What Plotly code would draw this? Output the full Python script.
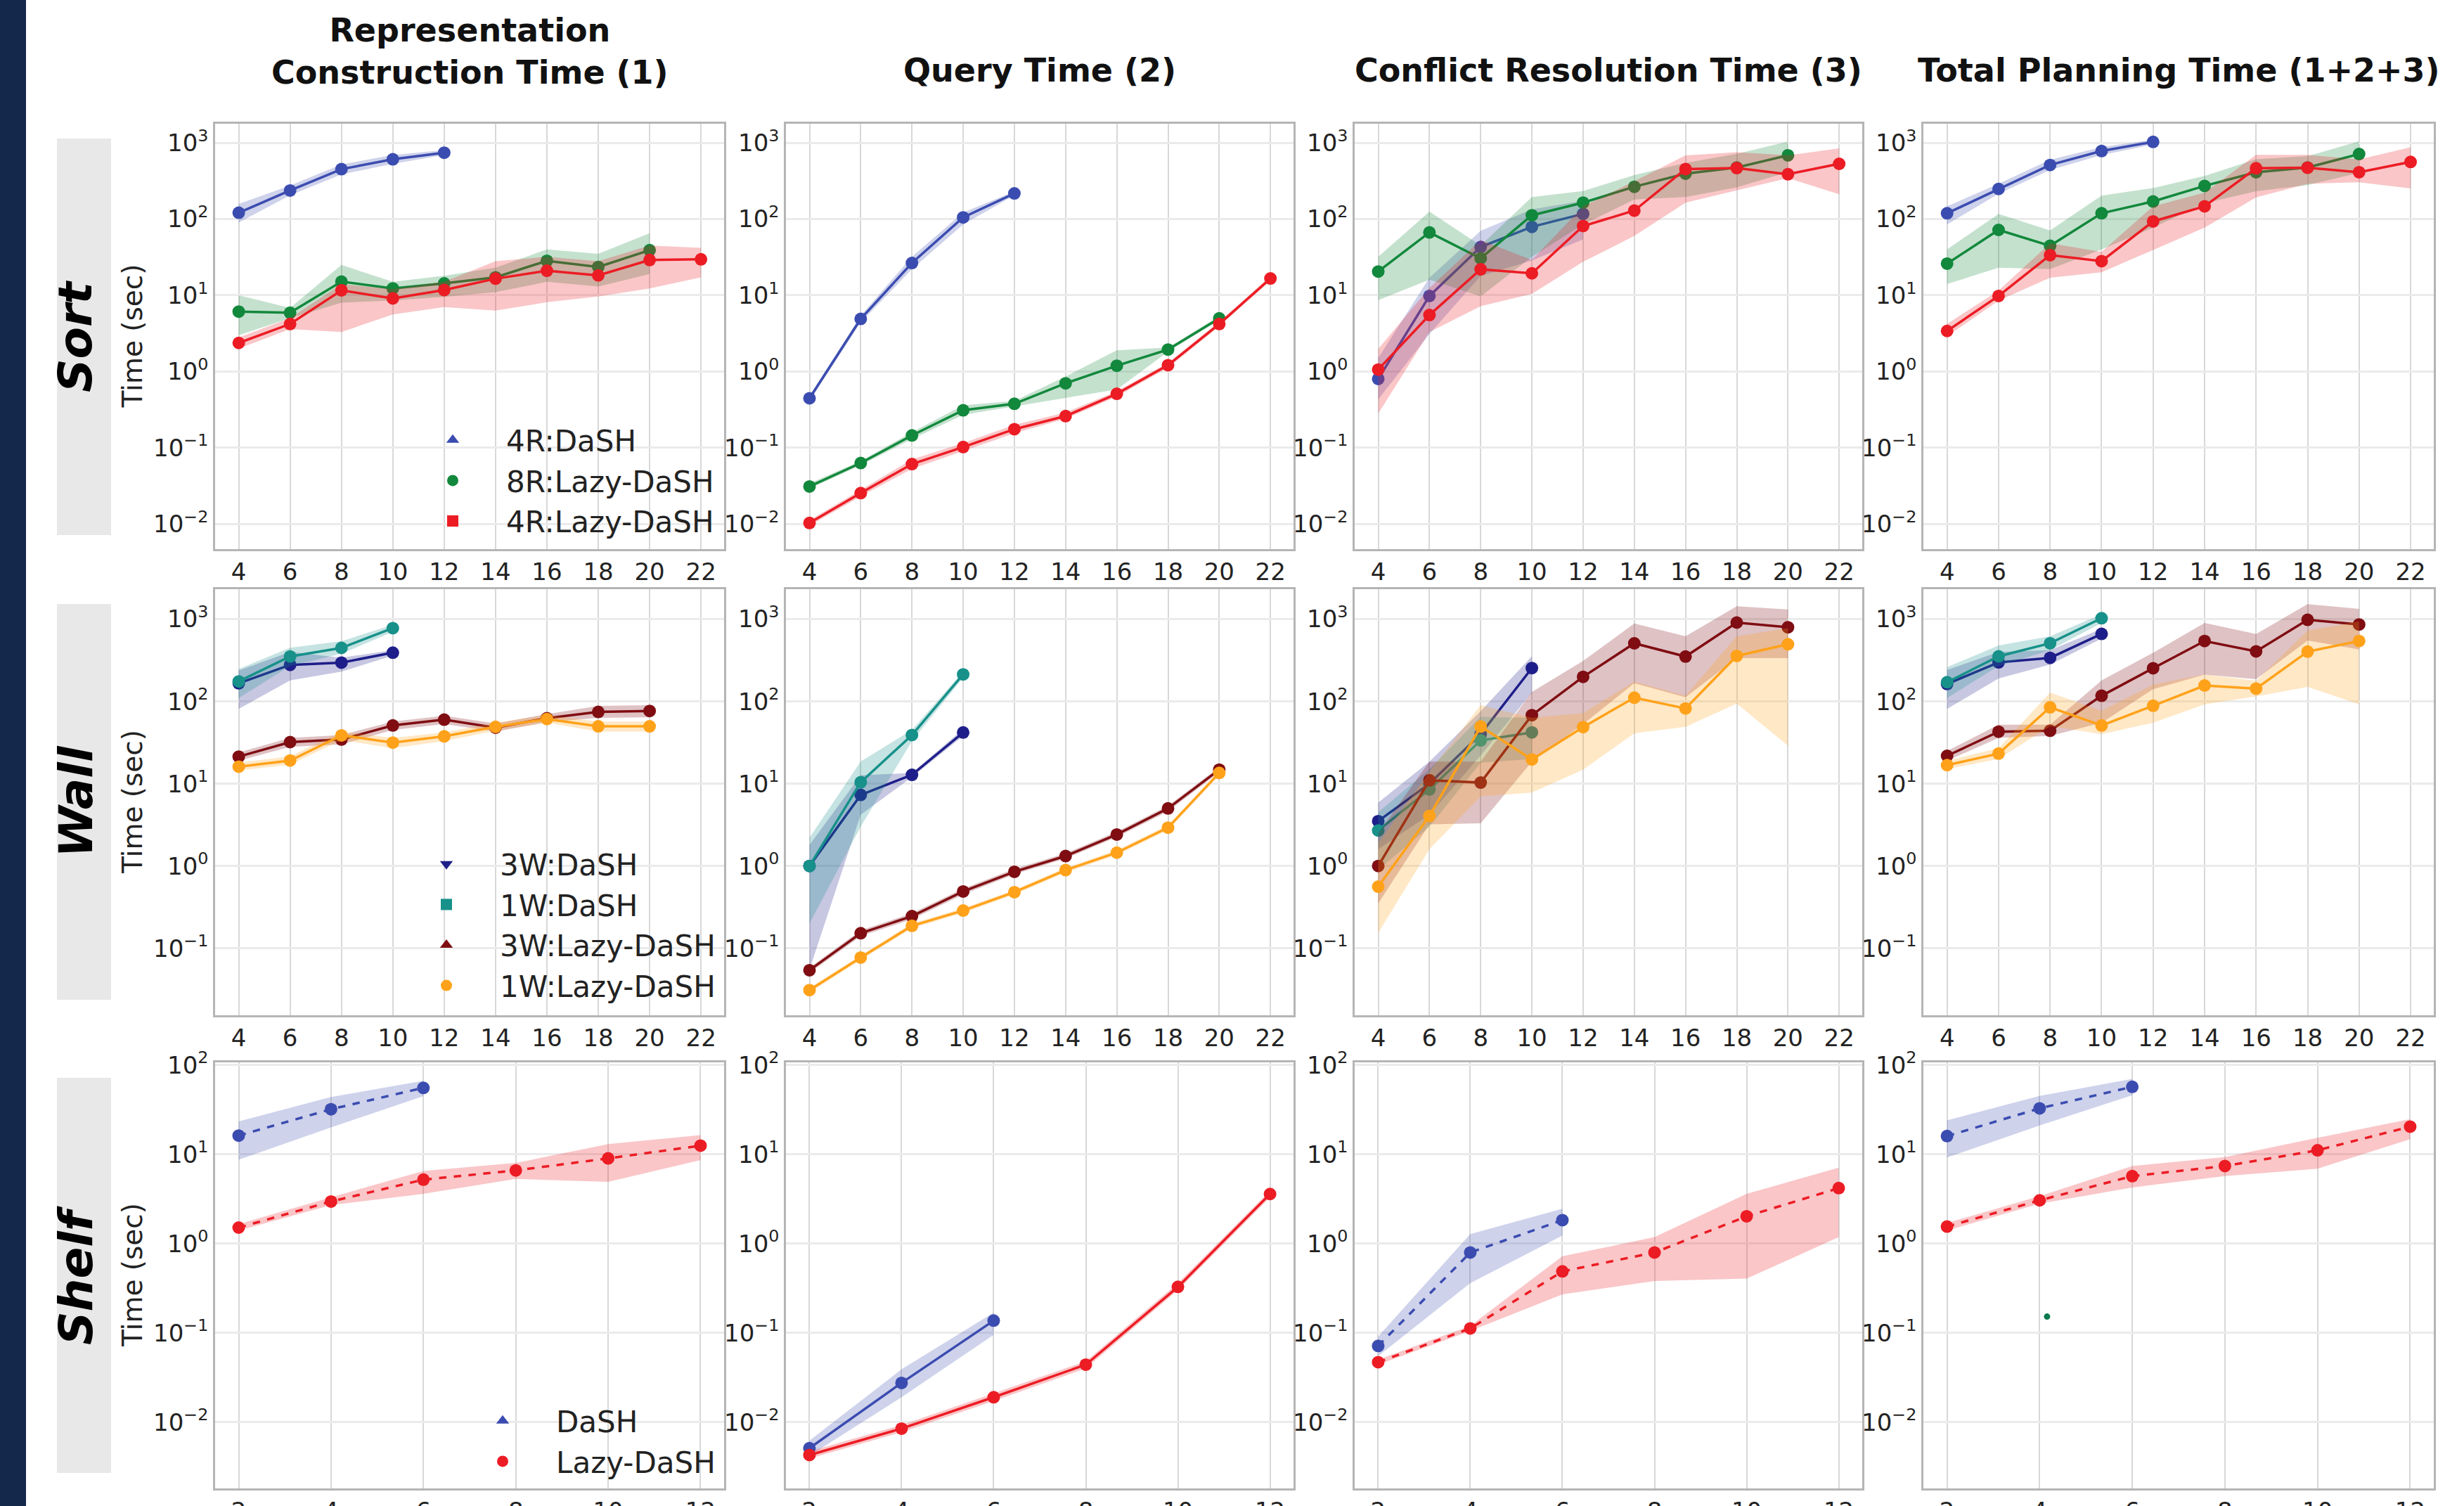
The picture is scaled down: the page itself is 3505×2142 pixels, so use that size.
import plotly.graph_objects as go

W, H = 3505, 2142

# ---------------- categories (number of robots / objects) ----------------
SORT_N = [4, 6, 8, 10, 12, 14, 16, 18, 20, 22]
WALL_N = [4, 6, 8, 10, 12, 14, 16, 18, 20]
SHELF_N = [2, 4, 6, 8, 10, 12]

COL_TITLES = ["Representation<br>Construction Time (1)", "Query Time (2)",
              "Conflict Resolution Time (3)", "Total Planning Time (1+2+3)"]
ROW_LABELS = ["Sort", "Wall", "Shelf"]
Y_TITLE = "Time (sec)"
Y_TICK_EXP = [-2, -1, 0, 1, 2, 3]

# ---------------- Sort: (1) representation construction ----------------
SORT_REP_DASH4R = [121, 237, 451, 608, 741]
SORT_REP_DASH4R_LO = [90, 205, 385, 530, 690]
SORT_REP_DASH4R_HI = [158, 275, 520, 690, 800]
SORT_REP_LAZY8R = [6.1, 5.9, 15.1, 12.3, 14.3, 17.2, 28.3, 23.5, 39]
SORT_REP_LAZY8R_LO = [3.0, 5.0, 8.0, 8.5, 9.5, 11, 15, 13, 19]
SORT_REP_LAZY8R_HI = [10, 6.8, 25, 15, 18, 23, 40, 35, 65]
SORT_REP_LAZY4R = [2.37, 4.2, 11.6, 9.1, 11.7, 16.5, 21, 18.2, 29, 29.6]
SORT_REP_LAZY4R_LO = [2.0, 3.6, 3.3, 5.6, 7.0, 6.3, 8.1, 9.6, 12.3, 17.2]
SORT_REP_LAZY4R_HI = [2.8, 5.0, 14, 12, 15, 28, 32, 28, 45, 42]

# ---------------- Sort: (2) query ----------------
SORT_QRY_DASH4R = [0.445, 4.9, 26.5, 105, 217]
SORT_QRY_DASH4R_LO = [0.41, 4.4, 22, 85, 205]
SORT_QRY_DASH4R_HI = [0.48, 5.4, 32, 122, 230]
SORT_QRY_LAZY8R = [0.031, 0.063, 0.145, 0.31, 0.377, 0.70, 1.19, 1.94, 4.97]
SORT_QRY_LAZY8R_LO = [0.029, 0.059, 0.13, 0.27, 0.35, 0.45, 0.58, 1.82, 4.7]
SORT_QRY_LAZY8R_HI = [0.034, 0.067, 0.16, 0.36, 0.41, 0.86, 1.9, 2.06, 5.3]
SORT_QRY_LAZY4R = [0.0103, 0.0254, 0.061, 0.102, 0.175, 0.26, 0.51, 1.21, 4.2, 16.6]
SORT_QRY_LAZY4R_LO = [0.0095, 0.023, 0.053, 0.09, 0.155, 0.24, 0.47, 1.12, 3.9, 15.5]
SORT_QRY_LAZY4R_HI = [0.0112, 0.028, 0.07, 0.115, 0.2, 0.29, 0.55, 1.3, 4.5, 17.8]

# ---------------- Sort: (3) conflict resolution ----------------
SORT_CR_DASH4R = [0.80, 9.8, 43, 79, 117]
SORT_CR_DASH4R_LO = [0.43, 3.1, 17.9, 28.6, 54]
SORT_CR_DASH4R_HI = [1.5, 17, 70, 134, 174]
SORT_CR_LAZY8R = [20.5, 66.7, 30.5, 112, 164, 265, 394, 474, 685]
SORT_CR_LAZY8R_LO = [8.6, 16, 9.7, 32, 85, 180, 194, 260, 413]
SORT_CR_LAZY8R_HI = [32, 125, 45, 194, 233, 377, 545, 718, 1037]
SORT_CR_LAZY4R = [1.06, 5.5, 21.9, 19.4, 81, 129, 453, 466, 387, 530]
SORT_CR_LAZY4R_LO = [0.28, 3.3, 7.2, 10.4, 27.5, 60, 164, 238, 344, 211]
SORT_CR_LAZY4R_HI = [1.98, 12.5, 53, 29, 147, 313, 685, 751, 685, 847]

# ---------------- Sort: total ----------------
SORT_TOT_DASH4R = [119, 248, 512, 780, 1028]
SORT_TOT_DASH4R_LO = [85, 215, 440, 690, 950]
SORT_TOT_DASH4R_HI = [147, 290, 600, 880, 1100]
SORT_TOT_LAZY8R = [26, 72, 44.6, 119, 170, 272, 411, 475, 712]
SORT_TOT_LAZY8R_LO = [14, 23, 22, 40, 77, 161, 232, 279, 404]
SORT_TOT_LAZY8R_HI = [40, 117, 71, 203, 255, 368, 610, 668, 1048]
SORT_TOT_LAZY4R = [3.4, 9.8, 33.6, 28, 93, 147, 463, 471, 411, 561]
SORT_TOT_LAZY4R_LO = [2.9, 8.5, 17, 20, 39, 77, 192, 290, 303, 252]
SORT_TOT_LAZY4R_HI = [4.2, 11.5, 48, 37, 147, 222, 693, 693, 604, 871]

# ---------------- Wall: (1) representation construction ----------------
WALL_REP_DASH3W = [166, 278, 296, 391]
WALL_REP_DASH3W_LO = [81, 180, 230, 360]
WALL_REP_DASH3W_HI = [237, 400, 340, 420]
WALL_REP_DASH1W = [175, 352, 447, 776]
WALL_REP_DASH1W_LO = [110, 270, 380, 700]
WALL_REP_DASH1W_HI = [248, 450, 540, 850]
WALL_REP_LAZY3W = [21.3, 32, 34.4, 51, 60, 48, 62.5, 74.5, 76.5]
WALL_REP_LAZY3W_LO = [19, 28, 30, 45, 53, 43, 56, 63, 64]
WALL_REP_LAZY3W_HI = [24, 36, 39, 57, 67, 54, 70, 88, 90]
WALL_REP_LAZY1W = [16.1, 19.1, 38.6, 31.6, 37.6, 49, 61, 49.8, 49.8]
WALL_REP_LAZY1W_LO = [14.5, 17, 34, 27, 33, 44, 55, 43, 43]
WALL_REP_LAZY1W_HI = [18, 21.5, 43, 36, 42, 55, 68, 57, 57]

# ---------------- Wall: (2) query ----------------
WALL_QRY_DASH3W = [1.0, 7.3, 12.8, 41.9]
WALL_QRY_DASH3W_LO = [0.055, 4.2, 12.0, 38]
WALL_QRY_DASH3W_HI = [1.8, 12.6, 13.5, 46]
WALL_QRY_DASH1W = [1.0, 10.4, 39, 213]
WALL_QRY_DASH1W_LO = [0.2, 3.0, 33, 195]
WALL_QRY_DASH1W_HI = [2.2, 18.6, 45, 230]
WALL_QRY_LAZY3W = [0.054, 0.152, 0.245, 0.49, 0.85, 1.32, 2.41, 5.0, 14.8]
WALL_QRY_LAZY3W_LO = [0.05, 0.14, 0.225, 0.45, 0.79, 1.23, 2.25, 4.6, 13.8]
WALL_QRY_LAZY3W_HI = [0.058, 0.165, 0.265, 0.53, 0.92, 1.42, 2.6, 5.4, 15.8]
WALL_QRY_LAZY1W = [0.031, 0.077, 0.187, 0.287, 0.48, 0.89, 1.45, 2.92, 13.5]
WALL_QRY_LAZY1W_LO = [0.029, 0.072, 0.175, 0.268, 0.45, 0.83, 1.36, 2.72, 12.6]
WALL_QRY_LAZY1W_HI = [0.033, 0.082, 0.2, 0.307, 0.51, 0.95, 1.55, 3.12, 14.4]

# ---------------- Wall: (3) conflict resolution ----------------
WALL_CR_DASH3W = [3.5, 10, 40, 254]
WALL_CR_DASH3W_LO = [1.6, 4.2, 22, 128]
WALL_CR_DASH3W_HI = [5.9, 18.5, 76, 355]
WALL_CR_DASH1W = [2.7, 8.5, 33.6, 42]
WALL_CR_DASH1W_LO = [0.9, 3.0, 18, 20]
WALL_CR_DASH1W_HI = [4.5, 15, 65, 63]
WALL_CR_LAZY3W = [1.0, 11, 10.3, 68, 199, 508, 351, 908, 796]
WALL_CR_LAZY3W_LO = [0.35, 3.2, 3.3, 18.5, 53, 166, 112, 336, 336]
WALL_CR_LAZY3W_HI = [2.5, 18.5, 18.5, 130, 310, 885, 620, 1432, 1313]
WALL_CR_LAZY1W = [0.56, 4.05, 49.5, 19.7, 48.7, 111, 82, 357, 495]
WALL_CR_LAZY1W_LO = [0.154, 1.6, 7, 7.8, 14.8, 41, 49, 94, 29]
WALL_CR_LAZY1W_HI = [1.9, 14, 90, 63, 72, 174, 117, 620, 775]

# ---------------- Wall: total ----------------
WALL_TOT_DASH3W = [163, 298, 338, 662]
WALL_TOT_DASH3W_LO = [81, 190, 280, 580]
WALL_TOT_DASH3W_HI = [240, 400, 420, 760]
WALL_TOT_DASH1W = [171, 353, 509, 1026]
WALL_TOT_DASH1W_LO = [110, 270, 420, 900]
WALL_TOT_DASH1W_HI = [260, 480, 620, 1150]
WALL_TOT_LAZY3W = [21.8, 42.8, 44, 117, 253, 542, 406, 982, 861]
WALL_TOT_LAZY3W_LO = [19, 36, 38, 55, 141, 212, 186, 550, 428]
WALL_TOT_LAZY3W_HI = [25, 52, 52, 180, 390, 900, 660, 1520, 1335]
WALL_TOT_LAZY1W = [16.8, 23.2, 84.7, 51, 88.5, 156, 143, 403, 542]
WALL_TOT_LAZY1W_LO = [15, 20, 50, 40, 55, 92, 115, 150, 92]
WALL_TOT_LAZY1W_HI = [19, 27, 128, 77, 160, 213, 178, 724, 940]

# ---------------- Shelf ----------------
SHELF_REP_DASH = [16.2, 32, 55.5]
SHELF_REP_DASH_LO = [8.7, 20, 44.8]
SHELF_REP_DASH_HI = [23.4, 43.8, 66.7]
SHELF_REP_LAZY = [1.51, 2.96, 5.2, 6.6, 9.0, 12.5]
SHELF_REP_LAZY_LO = [1.4, 2.7, 3.6, 5.3, 4.9, 8.6]
SHELF_REP_LAZY_HI = [1.65, 3.3, 6.5, 8.0, 13, 16.4]

SHELF_QRY_DASH = [0.0051, 0.0275, 0.137]
SHELF_QRY_DASH_LO = [0.0042, 0.019, 0.095]
SHELF_QRY_DASH_HI = [0.0062, 0.039, 0.168]
SHELF_QRY_LAZY = [0.00428, 0.00845, 0.019, 0.044, 0.327, 3.59]
SHELF_QRY_LAZY_LO = [0.0039, 0.0077, 0.0172, 0.040, 0.30, 3.3]
SHELF_QRY_LAZY_HI = [0.0047, 0.0093, 0.021, 0.048, 0.36, 3.9]

SHELF_CR_DASH = [0.0714, 0.794, 1.83]
SHELF_CR_DASH_LO = [0.055, 0.36, 1.23]
SHELF_CR_DASH_HI = [0.091, 1.28, 2.45]
SHELF_CR_LAZY = [0.0469, 0.112, 0.488, 0.794, 2.02, 4.18]
SHELF_CR_LAZY_LO = [0.044, 0.105, 0.27, 0.38, 0.405, 1.18]
SHELF_CR_LAZY_HI = [0.05, 0.12, 0.72, 1.18, 3.6, 7.1]

SHELF_TOT_DASH = [16, 32.7, 57]
SHELF_TOT_DASH_LO = [9.2, 21, 46]
SHELF_TOT_DASH_HI = [24, 45, 70]
SHELF_TOT_LAZY = [1.55, 3.05, 5.7, 7.4, 11.1, 20.4]
SHELF_TOT_LAZY_LO = [1.4, 2.8, 4.25, 5.7, 6.9, 14.8]
SHELF_TOT_LAZY_HI = [1.7, 3.4, 7.4, 9.3, 15.3, 24.8]

# stray point visible in the Shelf total panel
STRAY_X = [4.16]
STRAY_Y = [0.152]

# ---------------- styles ----------------
C_BLUE = "#3b4cb0"
C_GREEN = "#12883c"
C_RED = "#ec1c24"
C_NAVY = "#1e1e8a"
C_TEAL = "#17918a"
C_MAROON = "#7f0d12"
C_ORANGE = "#ffa21a"
C_STRAY = "#0b7a4e"

FONT = "DejaVu Sans"

COL_X = [(306, 1030), (1118, 1840), (1927, 2649), (2736, 3462)]
ROW_Y = [(176, 781), (838, 1444), (1511, 2117)]
ROW_YRANGE = [(-2.33, 3.25), (-1.815, 3.364), (-2.743, 2.03)]
ROW_XRANGE = [(3.08, 22.9), (3.08, 22.9), (1.49, 12.51)]
ROW_XTICKS = [SORT_N, SORT_N, SHELF_N]


def rgba(hx, a):
    hx = hx.lstrip("#")
    r, g, b = int(hx[0:2], 16), int(hx[2:4], 16), int(hx[4:6], 16)
    return f"rgba({r},{g},{b},{a})"


def S(name, n, m, lo, hi, c):
    return (name, n[:len(m)], m, lo, hi, c)


PANELS = {
    (0, 0): [S("4R:DaSH", SORT_N, SORT_REP_DASH4R, SORT_REP_DASH4R_LO, SORT_REP_DASH4R_HI, C_BLUE),
             S("8R:Lazy-DaSH", SORT_N, SORT_REP_LAZY8R, SORT_REP_LAZY8R_LO, SORT_REP_LAZY8R_HI, C_GREEN),
             S("4R:Lazy-DaSH", SORT_N, SORT_REP_LAZY4R, SORT_REP_LAZY4R_LO, SORT_REP_LAZY4R_HI, C_RED)],
    (0, 1): [S("4R:DaSH", SORT_N, SORT_QRY_DASH4R, SORT_QRY_DASH4R_LO, SORT_QRY_DASH4R_HI, C_BLUE),
             S("8R:Lazy-DaSH", SORT_N, SORT_QRY_LAZY8R, SORT_QRY_LAZY8R_LO, SORT_QRY_LAZY8R_HI, C_GREEN),
             S("4R:Lazy-DaSH", SORT_N, SORT_QRY_LAZY4R, SORT_QRY_LAZY4R_LO, SORT_QRY_LAZY4R_HI, C_RED)],
    (0, 2): [S("4R:DaSH", SORT_N, SORT_CR_DASH4R, SORT_CR_DASH4R_LO, SORT_CR_DASH4R_HI, C_BLUE),
             S("8R:Lazy-DaSH", SORT_N, SORT_CR_LAZY8R, SORT_CR_LAZY8R_LO, SORT_CR_LAZY8R_HI, C_GREEN),
             S("4R:Lazy-DaSH", SORT_N, SORT_CR_LAZY4R, SORT_CR_LAZY4R_LO, SORT_CR_LAZY4R_HI, C_RED)],
    (0, 3): [S("4R:DaSH", SORT_N, SORT_TOT_DASH4R, SORT_TOT_DASH4R_LO, SORT_TOT_DASH4R_HI, C_BLUE),
             S("8R:Lazy-DaSH", SORT_N, SORT_TOT_LAZY8R, SORT_TOT_LAZY8R_LO, SORT_TOT_LAZY8R_HI, C_GREEN),
             S("4R:Lazy-DaSH", SORT_N, SORT_TOT_LAZY4R, SORT_TOT_LAZY4R_LO, SORT_TOT_LAZY4R_HI, C_RED)],
    (1, 0): [S("3W:DaSH", WALL_N, WALL_REP_DASH3W, WALL_REP_DASH3W_LO, WALL_REP_DASH3W_HI, C_NAVY),
             S("1W:DaSH", WALL_N, WALL_REP_DASH1W, WALL_REP_DASH1W_LO, WALL_REP_DASH1W_HI, C_TEAL),
             S("3W:Lazy-DaSH", WALL_N, WALL_REP_LAZY3W, WALL_REP_LAZY3W_LO, WALL_REP_LAZY3W_HI, C_MAROON),
             S("1W:Lazy-DaSH", WALL_N, WALL_REP_LAZY1W, WALL_REP_LAZY1W_LO, WALL_REP_LAZY1W_HI, C_ORANGE)],
    (1, 1): [S("3W:DaSH", WALL_N, WALL_QRY_DASH3W, WALL_QRY_DASH3W_LO, WALL_QRY_DASH3W_HI, C_NAVY),
             S("1W:DaSH", WALL_N, WALL_QRY_DASH1W, WALL_QRY_DASH1W_LO, WALL_QRY_DASH1W_HI, C_TEAL),
             S("3W:Lazy-DaSH", WALL_N, WALL_QRY_LAZY3W, WALL_QRY_LAZY3W_LO, WALL_QRY_LAZY3W_HI, C_MAROON),
             S("1W:Lazy-DaSH", WALL_N, WALL_QRY_LAZY1W, WALL_QRY_LAZY1W_LO, WALL_QRY_LAZY1W_HI, C_ORANGE)],
    (1, 2): [S("3W:DaSH", WALL_N, WALL_CR_DASH3W, WALL_CR_DASH3W_LO, WALL_CR_DASH3W_HI, C_NAVY),
             S("1W:DaSH", WALL_N, WALL_CR_DASH1W, WALL_CR_DASH1W_LO, WALL_CR_DASH1W_HI, C_TEAL),
             S("3W:Lazy-DaSH", WALL_N, WALL_CR_LAZY3W, WALL_CR_LAZY3W_LO, WALL_CR_LAZY3W_HI, C_MAROON),
             S("1W:Lazy-DaSH", WALL_N, WALL_CR_LAZY1W, WALL_CR_LAZY1W_LO, WALL_CR_LAZY1W_HI, C_ORANGE)],
    (1, 3): [S("3W:DaSH", WALL_N, WALL_TOT_DASH3W, WALL_TOT_DASH3W_LO, WALL_TOT_DASH3W_HI, C_NAVY),
             S("1W:DaSH", WALL_N, WALL_TOT_DASH1W, WALL_TOT_DASH1W_LO, WALL_TOT_DASH1W_HI, C_TEAL),
             S("3W:Lazy-DaSH", WALL_N, WALL_TOT_LAZY3W, WALL_TOT_LAZY3W_LO, WALL_TOT_LAZY3W_HI, C_MAROON),
             S("1W:Lazy-DaSH", WALL_N, WALL_TOT_LAZY1W, WALL_TOT_LAZY1W_LO, WALL_TOT_LAZY1W_HI, C_ORANGE)],
    (2, 0): [S("DaSH", SHELF_N, SHELF_REP_DASH, SHELF_REP_DASH_LO, SHELF_REP_DASH_HI, C_BLUE),
             S("Lazy-DaSH", SHELF_N, SHELF_REP_LAZY, SHELF_REP_LAZY_LO, SHELF_REP_LAZY_HI, C_RED)],
    (2, 1): [S("DaSH", SHELF_N, SHELF_QRY_DASH, SHELF_QRY_DASH_LO, SHELF_QRY_DASH_HI, C_BLUE),
             S("Lazy-DaSH", SHELF_N, SHELF_QRY_LAZY, SHELF_QRY_LAZY_LO, SHELF_QRY_LAZY_HI, C_RED)],
    (2, 2): [S("DaSH", SHELF_N, SHELF_CR_DASH, SHELF_CR_DASH_LO, SHELF_CR_DASH_HI, C_BLUE),
             S("Lazy-DaSH", SHELF_N, SHELF_CR_LAZY, SHELF_CR_LAZY_LO, SHELF_CR_LAZY_HI, C_RED)],
    (2, 3): [S("DaSH", SHELF_N, SHELF_TOT_DASH, SHELF_TOT_DASH_LO, SHELF_TOT_DASH_HI, C_BLUE),
             S("Lazy-DaSH", SHELF_N, SHELF_TOT_LAZY, SHELF_TOT_LAZY_LO, SHELF_TOT_LAZY_HI, C_RED)],
}
DASHED = {(2, 0), (2, 2), (2, 3)}

LEGENDS = [
    ("legend", [("4R:DaSH", "triangle-up", C_BLUE), ("8R:Lazy-DaSH", "circle", C_GREEN),
                ("4R:Lazy-DaSH", "square", C_RED)], 568, 592),
    ("legend2", [("3W:DaSH", "triangle-down", C_NAVY), ("1W:DaSH", "square", C_TEAL),
                 ("3W:Lazy-DaSH", "triangle-up", C_MAROON), ("1W:Lazy-DaSH", "circle", C_ORANGE)], 559, 1195),
    ("legend3", [("DaSH", "triangle-up", C_BLUE), ("Lazy-DaSH", "circle", C_RED)], 639, 1987),
]


def px(v):
    return v / W


def py(v):
    return 1 - v / H


fig = go.Figure()
layout = {}

for r in range(3):
    for c in range(4):
        k = r * 4 + c + 1
        sfx = "" if k == 1 else str(k)
        xa, ya = "x" + sfx, "y" + sfx
        x0, x1 = COL_X[c]
        y0, y1 = ROW_Y[r]
        layout["xaxis" + sfx] = dict(
            domain=[px(x0), px(x1)], anchor=ya, range=list(ROW_XRANGE[r]),
            tickvals=ROW_XTICKS[r], ticktext=[str(v) for v in ROW_XTICKS[r]],
            showgrid=True, gridcolor="#d8d8d8", gridwidth=1.5,
            showline=True, linecolor="#b5b5b5", linewidth=2.5, mirror=True,
            zeroline=False, ticks="", automargin=False,
            tickfont=dict(size=34, color="#222", family=FONT),
        )
        layout["yaxis" + sfx] = dict(
            domain=[py(y1), py(y0)], anchor=xa, type="log", range=list(ROW_YRANGE[r]),
            tickvals=[10.0 ** e for e in Y_TICK_EXP],
            ticktext=["10<sup>%s</sup>" % (str(e).replace("-", "\u2212")) for e in Y_TICK_EXP],
            showgrid=True, gridcolor="#ebebeb", gridwidth=3,
            showline=True, linecolor="#b5b5b5", linewidth=2.5, mirror=True,
            zeroline=False, ticks="", automargin=False,
            tickfont=dict(size=34, color="#222", family=FONT),
        )
        dash = "dash" if (r, c) in DASHED else "solid"
        for (name, x, m, lo, hi, col) in PANELS[(r, c)]:
            fig.add_trace(go.Scatter(
                x=list(x) + list(x)[::-1], y=list(hi) + list(lo)[::-1],
                fill="toself", fillcolor=rgba(col, 0.25), line=dict(width=0),
                mode="lines", showlegend=False, hoverinfo="skip", xaxis=xa, yaxis=ya))
            fig.add_trace(go.Scatter(
                x=x, y=m, mode="lines+markers", name=name, showlegend=False,
                line=dict(color=col, width=3.5, dash=dash),
                marker=dict(symbol="circle", size=18, color=col),
                xaxis=xa, yaxis=ya))
        if (r, c) == (2, 3):
            fig.add_trace(go.Scatter(x=STRAY_X, y=STRAY_Y, mode="markers", showlegend=False,
                                     marker=dict(size=9, color=C_STRAY), xaxis=xa, yaxis=ya))

# legend-only entries
for (lg, items, lx, ly) in LEGENDS:
    for (name, sym, col) in items:
        fig.add_trace(go.Scatter(x=[None], y=[None], mode="markers", name=name, legend=lg,
                                 marker=dict(symbol=sym, size=16, color=col),
                                 showlegend=True, xaxis="x", yaxis="y"))
    layout[lg] = dict(x=px(lx), y=py(ly), xanchor="left", yanchor="top",
                      font=dict(size=42, color="#222", family=FONT),
                      bgcolor="rgba(0,0,0,0)", borderwidth=0, itemwidth=142,
                      traceorder="normal", tracegroupgap=0)

shapes = [
    dict(type="rect", xref="paper", yref="paper", x0=0, x1=px(37), y0=0, y1=1,
         fillcolor="#14284b", line=dict(width=0), layer="below"),
]
ROW_BOX = [(197, 761), (859, 1422), (1533, 2095)]
for (b0, b1) in ROW_BOX:
    shapes.append(dict(type="rect", xref="paper", yref="paper", x0=px(81), x1=px(158),
                       y0=py(b1), y1=py(b0), fillcolor="#e8e8e8", line=dict(width=0),
                       layer="below"))

annotations = []
for c, t in enumerate(COL_TITLES):
    cx = (COL_X[c][0] + COL_X[c][1]) / 2
    cy = 73 if "<br>" in t else 100
    annotations.append(dict(text="<b>" + t + "</b>", x=px(cx), y=py(cy), xref="paper", yref="paper",
                            xanchor="center", yanchor="middle", showarrow=False,
                            font=dict(size=46, color="#111", family=FONT)))
for r, lab in enumerate(ROW_LABELS):
    cy = (ROW_BOX[r][0] + ROW_BOX[r][1]) / 2
    annotations.append(dict(text="<b><i>" + lab + "</i></b>", x=px(108), y=py(cy), xref="paper",
                            yref="paper", xanchor="center", yanchor="middle", textangle=-90,
                            showarrow=False, font=dict(size=66, color="#000", family=FONT)))
    ty = (ROW_Y[r][0] + ROW_Y[r][1]) / 2
    annotations.append(dict(text=Y_TITLE, x=px(188), y=py(ty), xref="paper", yref="paper",
                            xanchor="center", yanchor="middle", textangle=-90, showarrow=False,
                            font=dict(size=39, color="#222", family=FONT)))

fig.update_layout(
    width=W, height=H, autosize=False, margin=dict(l=0, r=0, t=0, b=0, pad=0, autoexpand=False),
    paper_bgcolor="white", plot_bgcolor="white",
    font=dict(family=FONT, color="#222"),
    shapes=shapes, annotations=annotations, **layout,
)

fig.write_html(
    "out.html",
    config={"responsive": False, "displayModeBar": False},
    post_script="document.documentElement.style.margin='0';document.body.style.margin='0';"
                "document.body.style.padding='0';document.body.style.overflow='hidden';",
)
